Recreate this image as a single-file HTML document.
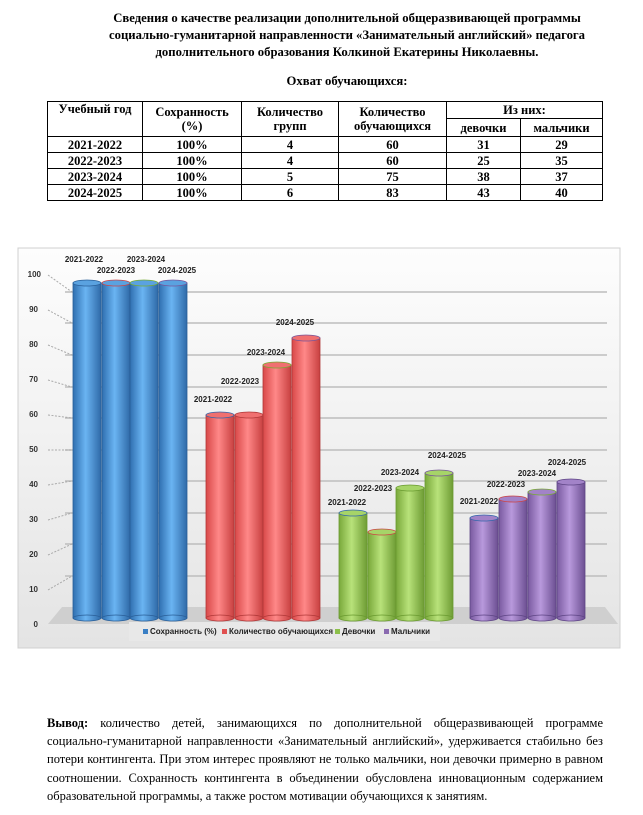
<!DOCTYPE html>
<html><head><meta charset="utf-8"><style>
body{margin:0;width:643px;height:815px;background:#fff;position:relative;font-family:"Liberation Serif",serif;color:#000;overflow:hidden}
.t{position:absolute;left:0;width:694px;text-align:center;font-weight:bold;font-size:12.7px;line-height:17px}
table{position:absolute;left:47px;top:101px;width:556px;border-collapse:collapse;font-weight:bold;font-size:12.5px;text-align:center}
td{border:1px solid #000;padding:0;line-height:14px;height:15px}
.p{position:absolute;left:47px;top:714px;width:556px;font-size:12.5px;line-height:18.2px;text-align:justify}
</style></head><body>
<div class="t" style="top:10px">Сведения о качестве реализации дополнительной общеразвивающей программы<br>социально-гуманитарной направленности «Занимательный английский» педагога<br>дополнительного образования Колкиной Екатерины Николаевны.</div>
<div class="t" style="top:73px">Охват обучающихся:</div>
<table>
<tr><td rowspan="2" style="width:94px;vertical-align:top">Учебный год</td><td rowspan="2" style="width:98px">Сохранность<br>(%)</td><td rowspan="2" style="width:96px">Количество<br>групп</td><td rowspan="2" style="width:107px">Количество<br>обучающихся</td><td colspan="2" style="height:16px">Из них:</td></tr>
<tr><td style="width:73px;height:17px">девочки</td><td>мальчики</td></tr>
<tr><td>2021-2022</td><td>100%</td><td>4</td><td>60</td><td>31</td><td>29</td></tr>
<tr><td>2022-2023</td><td>100%</td><td>4</td><td>60</td><td>25</td><td>35</td></tr>
<tr><td>2023-2024</td><td>100%</td><td>5</td><td>75</td><td>38</td><td>37</td></tr>
<tr><td>2024-2025</td><td>100%</td><td>6</td><td>83</td><td>43</td><td>40</td></tr>
</table>
<svg style="position:absolute;left:0;top:0" width="643" height="815" font-family="Liberation Sans, sans-serif">
<defs>
<linearGradient id="bg" x1="0" y1="0" x2="0" y2="1"><stop offset="0" stop-color="#fdfdfd"/><stop offset="1" stop-color="#e4e4e4"/></linearGradient>
<linearGradient id="b" x1="0" x2="1"><stop offset="0" stop-color="#2f6fb0"/><stop offset=".45" stop-color="#6ab4f2"/><stop offset="1" stop-color="#2f6aa8"/></linearGradient>
<linearGradient id="r" x1="0" x2="1"><stop offset="0" stop-color="#d84848"/><stop offset=".45" stop-color="#ff8888"/><stop offset="1" stop-color="#c84040"/></linearGradient>
<linearGradient id="g" x1="0" x2="1"><stop offset="0" stop-color="#79a83a"/><stop offset=".45" stop-color="#b8e27a"/><stop offset="1" stop-color="#6e9c34"/></linearGradient>
<linearGradient id="v" x1="0" x2="1"><stop offset="0" stop-color="#7a5aa0"/><stop offset=".45" stop-color="#b899dc"/><stop offset="1" stop-color="#6c4f92"/></linearGradient>
</defs>
<rect x="18" y="248" width="602" height="400" fill="url(#bg)" stroke="#d0d0d0"/>
<g stroke="#bdbdbd" stroke-width="1.5">
<line x1="65" y1="292" x2="607" y2="292"/><line x1="65" y1="323" x2="607" y2="323"/><line x1="65" y1="355" x2="607" y2="355"/><line x1="65" y1="387" x2="607" y2="387"/><line x1="65" y1="418" x2="607" y2="418"/><line x1="65" y1="450" x2="607" y2="450"/><line x1="65" y1="481" x2="607" y2="481"/><line x1="65" y1="513" x2="607" y2="513"/><line x1="65" y1="544" x2="607" y2="544"/><line x1="65" y1="576" x2="607" y2="576"/>
</g>
<g stroke="#aaa" stroke-dasharray="2,1.5"><line x1="48" y1="275" x2="72" y2="292"/><line x1="48" y1="310" x2="72" y2="323"/><line x1="48" y1="345" x2="72" y2="355"/><line x1="48" y1="380" x2="72" y2="387"/><line x1="48" y1="415" x2="72" y2="418"/><line x1="48" y1="450" x2="72" y2="450"/><line x1="48" y1="485" x2="72" y2="481"/><line x1="48" y1="520" x2="72" y2="513"/><line x1="48" y1="555" x2="72" y2="544"/><line x1="48" y1="590" x2="72" y2="576"/></g>
<polygon points="62,607 605,607 618,624 48,624" fill="#cfcfcf"/>
<g font-size="8" fill="#333" font-weight="bold" text-anchor="end"><text x="41" y="277">100</text><text x="38" y="312">90</text><text x="38" y="347">80</text><text x="38" y="382">70</text><text x="38" y="417">60</text><text x="38" y="452">50</text><text x="38" y="487">40</text><text x="38" y="522">30</text><text x="38" y="557">20</text><text x="38" y="592">10</text><text x="38" y="627">0</text></g>
<g stroke-width=".8">
<g fill="url(#b)" stroke="#2a5f98"><rect x="73" y="283" width="28" height="335"/><ellipse cx="87" cy="618" rx="14" ry="3"/><ellipse cx="87" cy="283" rx="14" ry="3" fill="#5aa2e0"/>
<rect x="102" y="283" width="28" height="335"/><ellipse cx="116" cy="618" rx="14" ry="3"/><ellipse cx="116" cy="283" rx="14" ry="3" fill="#5aa2e0" stroke="#c44"/>
<rect x="130" y="283" width="28" height="335"/><ellipse cx="144" cy="618" rx="14" ry="3"/><ellipse cx="144" cy="283" rx="14" ry="3" fill="#5aa2e0" stroke="#7a3"/>
<rect x="159" y="283" width="28" height="335"/><ellipse cx="173" cy="618" rx="14" ry="3"/><ellipse cx="173" cy="283" rx="14" ry="3" fill="#5aa2e0" stroke="#759"/></g>
<g fill="url(#r)" stroke="#b03838"><rect x="206" y="415" width="28" height="203"/><ellipse cx="220" cy="618" rx="14" ry="3"/><ellipse cx="220" cy="415" rx="14" ry="3" fill="#f07070" stroke="#36a"/>
<rect x="235" y="415" width="28" height="203"/><ellipse cx="249" cy="618" rx="14" ry="3"/><ellipse cx="249" cy="415" rx="14" ry="3" fill="#f07070"/>
<rect x="263" y="365" width="28" height="253"/><ellipse cx="277" cy="618" rx="14" ry="3"/><ellipse cx="277" cy="365" rx="14" ry="3" fill="#f07070" stroke="#7a3"/>
<rect x="292" y="338" width="28" height="280"/><ellipse cx="306" cy="618" rx="14" ry="3"/><ellipse cx="306" cy="338" rx="14" ry="3" fill="#f07070" stroke="#759"/></g>
<g fill="url(#g)" stroke="#6a9a30"><rect x="339" y="513" width="28" height="105"/><ellipse cx="353" cy="618" rx="14" ry="3"/><ellipse cx="353" cy="513" rx="14" ry="3" fill="#a6d468" stroke="#36a"/>
<rect x="368" y="532" width="28" height="86"/><ellipse cx="382" cy="618" rx="14" ry="3"/><ellipse cx="382" cy="532" rx="14" ry="3" fill="#a6d468" stroke="#c44"/>
<rect x="396" y="488" width="28" height="130"/><ellipse cx="410" cy="618" rx="14" ry="3"/><ellipse cx="410" cy="488" rx="14" ry="3" fill="#a6d468"/>
<rect x="425" y="473" width="28" height="145"/><ellipse cx="439" cy="618" rx="14" ry="3"/><ellipse cx="439" cy="473" rx="14" ry="3" fill="#a6d468" stroke="#759"/></g>
<g fill="url(#v)" stroke="#5e4585"><rect x="470" y="518" width="28" height="100"/><ellipse cx="484" cy="618" rx="14" ry="3"/><ellipse cx="484" cy="518" rx="14" ry="3" fill="#a283c8" stroke="#36a"/>
<rect x="499" y="499" width="28" height="119"/><ellipse cx="513" cy="618" rx="14" ry="3"/><ellipse cx="513" cy="499" rx="14" ry="3" fill="#a283c8" stroke="#c44"/>
<rect x="528" y="492" width="28" height="126"/><ellipse cx="542" cy="618" rx="14" ry="3"/><ellipse cx="542" cy="492" rx="14" ry="3" fill="#a283c8" stroke="#7a3"/>
<rect x="557" y="482" width="28" height="136"/><ellipse cx="571" cy="618" rx="14" ry="3"/><ellipse cx="571" cy="482" rx="14" ry="3" fill="#a283c8"/></g>
</g>
<g font-size="8" fill="#222" font-weight="bold" text-anchor="middle">
<text x="84" y="262">2021-2022</text><text x="116" y="273">2022-2023</text><text x="146" y="262">2023-2024</text><text x="177" y="273">2024-2025</text>
<text x="213" y="402">2021-2022</text><text x="240" y="384">2022-2023</text><text x="266" y="355">2023-2024</text><text x="295" y="325">2024-2025</text>
<text x="347" y="505">2021-2022</text><text x="373" y="491">2022-2023</text><text x="400" y="475">2023-2024</text><text x="447" y="458">2024-2025</text>
<text x="479" y="504">2021-2022</text><text x="506" y="487">2022-2023</text><text x="537" y="476">2023-2024</text><text x="567" y="465">2024-2025</text>
</g>
<rect x="129" y="622" width="311" height="19" fill="#e8e8e8"/>
<g font-size="8" fill="#222" font-weight="bold"><rect x="143" y="629" width="5" height="5" fill="#3a7fc4"/><text x="150" y="634">Сохранность (%)</text>
<rect x="222" y="629" width="5" height="5" fill="#e05050"/><text x="229" y="634">Количество обучающихся</text>
<rect x="335" y="629" width="5" height="5" fill="#8cc04a"/><text x="342" y="634">Девочки</text>
<rect x="384" y="629" width="5" height="5" fill="#8a6ab0"/><text x="391" y="634">Мальчики</text></g>
</svg>
<div class="p"><b>Вывод:</b> количество детей, занимающихся по дополнительной общеразвивающей программе социально-гуманитарной направленности «Занимательный английский», удерживается стабильно без потери контингента. При этом интерес проявляют не только мальчики, нои девочки примерно в равном соотношении. Сохранность контингента в объединении обусловлена инновационным содержанием образовательной программы, а также ростом мотивации обучающихся к занятиям.</div>
</body></html>
